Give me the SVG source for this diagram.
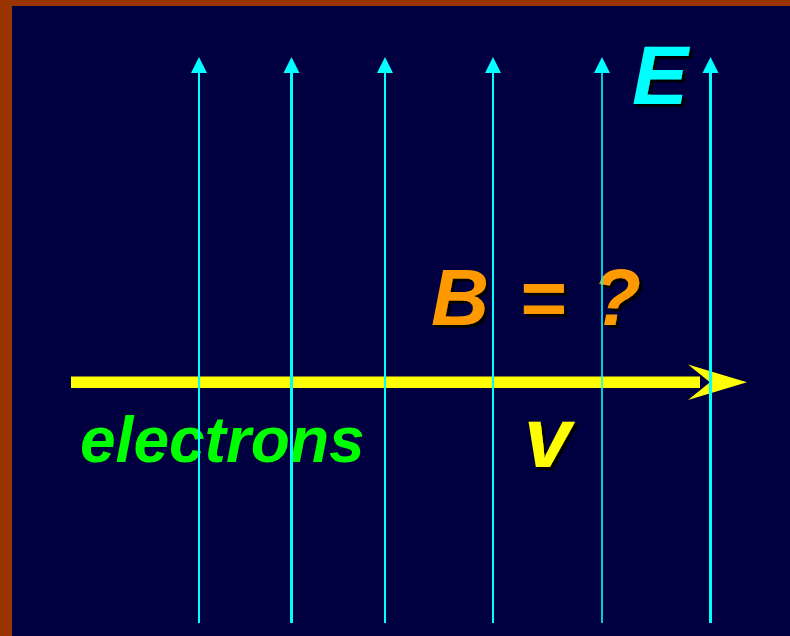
<svg xmlns="http://www.w3.org/2000/svg" width="790" height="636" viewBox="0 0 790 636">
<style>
.lbl{font-family:"Liberation Sans",Arial,sans-serif;font-weight:bold;font-style:italic}
.shadow{filter:url(#ds)}
.field{stroke:#00FFFF;fill:none}
</style>
<defs>
<filter id="ds" x="-20%" y="-20%" width="140%" height="140%">
<feDropShadow dx="3" dy="3" stdDeviation="0" flood-color="#000000" flood-opacity="1"/>
</filter>
</defs>
<rect x="0" y="0" width="790" height="636" fill="#993300"/>
<rect x="12" y="6" width="778" height="630" fill="#000040"/>
<g id="label-E">
<text class="lbl shadow" x="632" y="104" font-size="84" fill="#00FFFF">E</text>
</g>
<g id="label-B">
<text class="lbl shadow" x="431" y="325" font-size="80" fill="#FF9900" xml:space="preserve">B <tspan dx="8">=</tspan> <tspan dx="4">?</tspan></text>
</g>
<g id="label-electrons">
<text class="lbl" x="80" y="462" font-size="64" fill="#00FF00">electrons</text>
</g>
<g id="label-v">
<text class="lbl shadow" x="524" y="467" font-size="85" fill="#FFFF00">v</text>
</g>
<g id="velocity-arrow">
<rect x="71" y="376.5" width="629" height="11.5" fill="#FFFF00"/>
<path d="M688,364.5 L747,382.3 L688,400 L710,382.3 Z" fill="#FFFF00"/>
</g>
<g id="field-lines">
<g class="field">
<line x1="199" y1="623" x2="199" y2="72" stroke-width="2"/>
<line x1="291.5" y1="623" x2="291.5" y2="72" stroke-width="3"/>
<line x1="385" y1="623" x2="385" y2="72" stroke-width="2"/>
<line x1="493" y1="623" x2="493" y2="72" stroke-width="2"/>
<line x1="602" y1="623" x2="602" y2="72" stroke-width="1.6"/>
<line x1="710.5" y1="623" x2="710.5" y2="72" stroke-width="3"/>
</g>
<g fill="#00FFFF">
<path d="M191,73 L199,57 L207,73 Z"/>
<path d="M283.5,73 L291.5,57 L299.5,73 Z"/>
<path d="M377,73 L385,57 L393,73 Z"/>
<path d="M485,73 L493,57 L501,73 Z"/>
<path d="M594,73 L602,57 L610,73 Z"/>
<path d="M702.5,73 L710.5,57 L718.5,73 Z"/>
</g>
</g>
</svg>
